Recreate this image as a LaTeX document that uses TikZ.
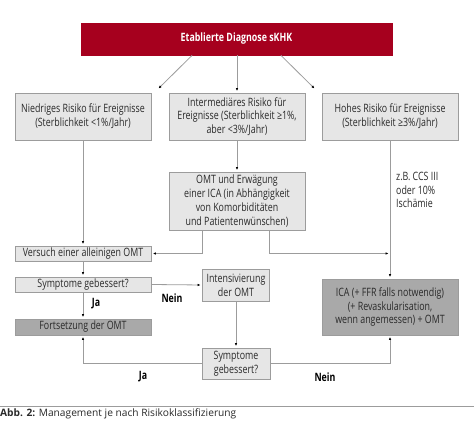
\documentclass[tikz,border=0pt]{standalone}
\usepackage{fontspec}
\setmainfont[FakeStretch=0.77]{Open Sans}
\newfontfamily\capfont{Open Sans}
\usetikzlibrary{arrows.meta,calc}
\definecolor{rd}{HTML}{A6001E}
\definecolor{lightbox}{HTML}{E6E6E6}
\definecolor{darkbox}{HTML}{A9A9A9}
\definecolor{edge}{HTML}{9C9C9C}
\definecolor{txt}{HTML}{2A2A2A}
\tikzset{
  box/.style={draw=edge, line width=0.9pt, fill=lightbox, inner sep=0pt, align=center, text=txt},
  dbox/.style={box, fill=darkbox},
  arr/.style={draw=edge, line width=0.8pt, shorten >=1.5pt, -{Latex[length=3pt,width=2.6pt,color=black]}},
  lbl/.style={font=\fontsize{11.5}{14}\selectfont\bfseries, text=black},
}
\begin{document}
\begin{tikzpicture}[x=1pt,y=-1pt, font=\fontsize{11.5}{13.8}\selectfont]
\useasboundingbox[fill=white] (0,0) rectangle (474,438);
\node[box, fill=rd, draw=rd, text=white, font=\fontsize{11.5}{14}\selectfont\bfseries, minimum width=311pt, minimum height=32pt] (red) at (236.5,39) {Etablierte Diagnose sKHK};
\node[box, minimum width=136pt, minimum height=47pt] (b1) at (83,116.5) {Niedriges Risiko für Ereignisse\\(Sterblichkeit <1\%/Jahr)};
\node[box, minimum width=136pt, minimum height=47pt] (b2) at (237,116.5) {Intermediäres Risiko für\\Ereignisse (Sterblichkeit ≥1\%,\\aber <3\%/Jahr)};
\node[box, minimum width=136pt, minimum height=47pt] (b3) at (390,116.5) {Hohes Risiko für Ereignisse\\(Sterblichkeit ≥3\%/Jahr)};
\node[box, minimum width=136pt, minimum height=58pt] (omt) at (237,201) {OMT und Erwägung\\einer ICA (in Abhängigkeit\\von Komorbiditäten\\und Patientenwünschen)};
\node[box, minimum width=136pt, minimum height=15pt] (vers) at (83,253.5) {Versuch einer alleinigen OMT};
\node[box, minimum width=136pt, minimum height=15pt] (s1) at (83,284.5) {Symptome gebessert?};
\node[dbox, minimum width=136pt, minimum height=16pt] (fort) at (83,327) {Fortsetzung der OMT};
\node[box, minimum width=67pt, minimum height=32pt] (int) at (236,285) {Intensivierung\\der OMT};
\node[dbox, minimum width=136pt, minimum height=56pt] (ica) at (390,307) {ICA (+ FFR falls notwendig)\\(+ Revaskularisation,\\wenn angemessen) + OMT};
\node[box, minimum width=68pt, minimum height=31pt] (s2) at (236,363.5) {Symptome\\gebessert?};
\node[align=left, anchor=west, text=txt, inner sep=0pt] (cc) at (396,190) {z.B. CCS III\\oder 10\%\\Ischämie};
\coordinate (j) at (b3.south |- vers.east);
\draw[arr] ([xshift=-44.5pt]red.south) -- ([xshift=6pt,yshift=3pt]b1.north east);
\draw[arr] ([xshift=0.5pt]red.south) -- (b2.north);
\draw[arr] ([xshift=44.5pt]red.south) -- ([xshift=-6pt,yshift=3pt]b3.north west);
\draw[arr] (b1.south) -- (vers.north);
\draw[arr] (b2.south) -- (omt.north);
\draw[arr] (b3.south) -- (ica.north);
\draw[arr] ([xshift=-35pt]omt.south) |- (vers.east);
\draw[arr] ([xshift=32pt]omt.south) |- (j);
\draw[arr] (vers.south) -- (s1.north);
\draw[arr] (s1.east) -- (int.west);
\draw[arr] (s1.south) -- (fort.north);
\draw[arr] (int.south) -- (s2.north);
\draw[arr] (s2.west) -| (fort.south);
\draw[arr] (s2.east) -| (ica.south);
\node[lbl] (ja1) at (96,304) {Ja};
\node[lbl] (nein1) at (172,298) {Nein};
\node[lbl] (ja2) at (143,377) {Ja};
\node[lbl] (nein2) at (325,377) {Nein};
\coordinate (la) at (0,406);
\coordinate (lb) at (474,406);
\draw[edge, line width=0.8pt] (la) -- (lb);
\node[anchor=west, inner sep=0pt, font=\capfont\fontsize{10.2}{12}\selectfont, text=txt] (cap) at (0,413.5) {\textbf{Abb. 2:} Management je nach Risikoklassifizierung};
\end{tikzpicture}
\end{document}
